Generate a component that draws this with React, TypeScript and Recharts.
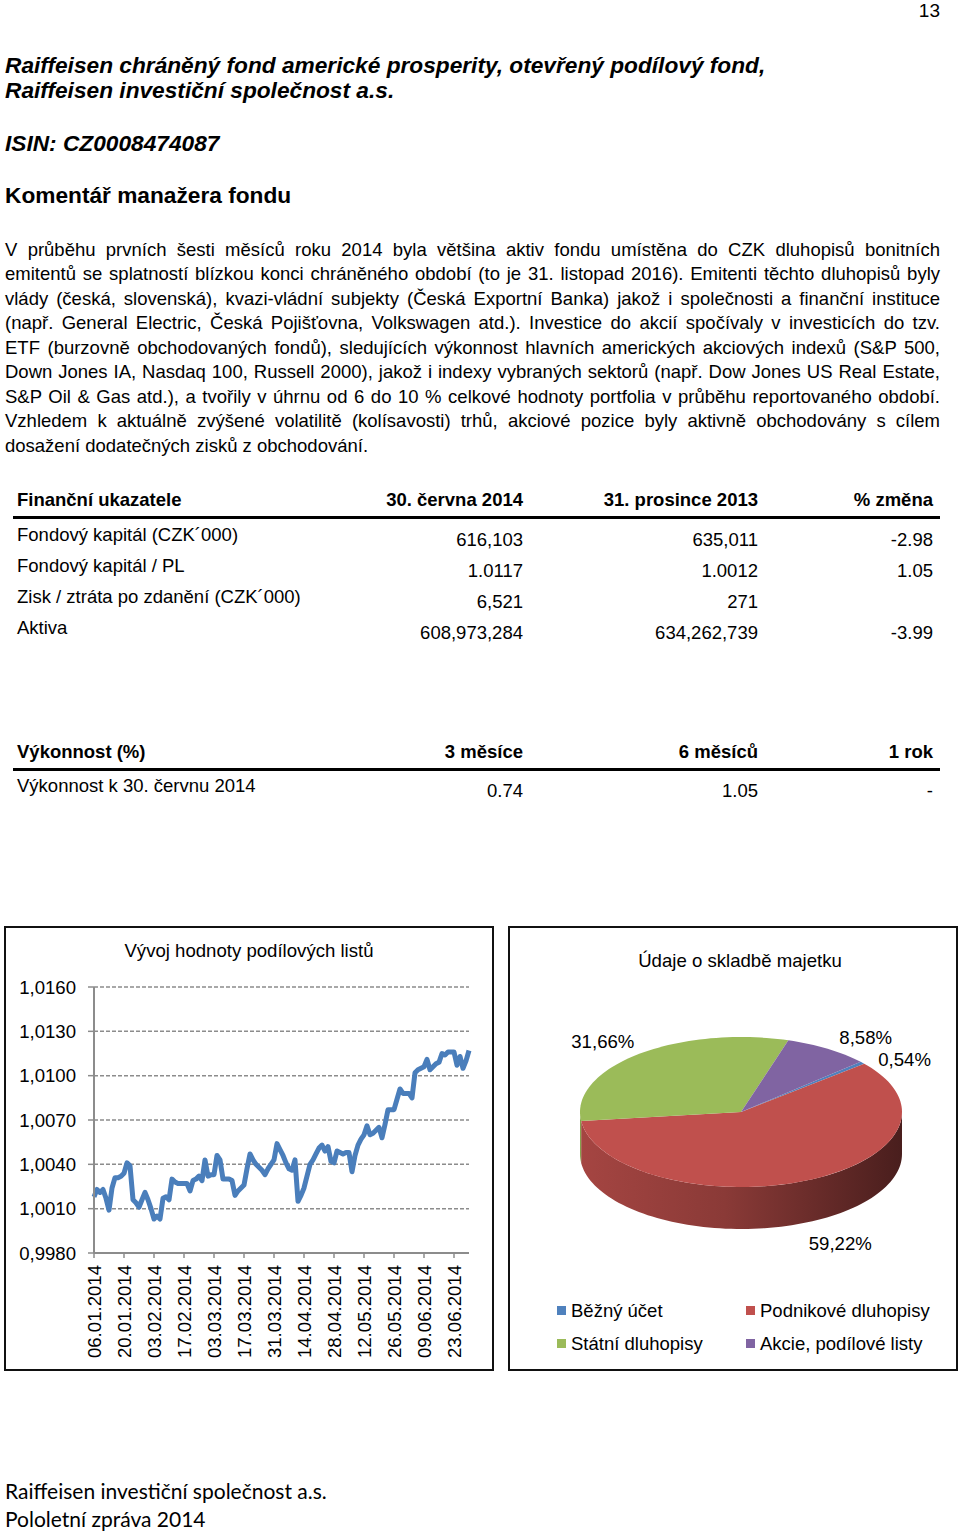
import React from "react";
import { LineChart, Line, XAxis, YAxis, CartesianGrid, PieChart, Pie, Legend } from "recharts";

// NAV per unit, trading days 06.01.2014 - 30.06.2014
const navValues = [
  1.0018, 1.0023, 1.0021, 1.0023, 1.0017, 1.0009, 1.0024, 1.0031, 1.0031, 1.0032,
  1.0034, 1.0041, 1.0039, 1.0016, 1.0014, 1.0011, 1.0016, 1.0021, 1.0016, 1.0010,
  1.0003, 1.0005, 1.0003, 1.0017, 1.0018, 1.0016, 1.0030, 1.0028, 1.0027, 1.0027,
  1.0027, 1.0027, 1.0022, 1.0029, 1.0030, 1.0032, 1.0029, 1.0043, 1.0032, 1.0033,
  1.0033, 1.0046, 1.0043, 1.0030, 1.0030, 1.0030, 1.0029, 1.0019, 1.0022, 1.0024,
  1.0026, 1.0037, 1.0047, 1.0043, 1.0040, 1.0038, 1.0036, 1.0033, 1.0037, 1.0040,
  1.0043, 1.0054, 1.0050, 1.0046, 1.0041, 1.0037, 1.0036, 1.0043, 1.0015, 1.0019,
  1.0024, 1.0032, 1.0040, 1.0043, 1.0047, 1.0051, 1.0053, 1.0049, 1.0052, 1.0042,
  1.0041, 1.0049, 1.0048, 1.0047, 1.0048, 1.0048, 1.0035, 1.0046, 1.0053, 1.0057,
  1.0060, 1.0066, 1.0060, 1.0061, 1.0063, 1.0065, 1.0058, 1.0067, 1.0077, 1.0077,
  1.0077, 1.0084, 1.0091, 1.0088, 1.0088, 1.0088, 1.0085, 1.0102, 1.0104, 1.0105,
  1.0106, 1.0111, 1.0104, 1.0106, 1.0108, 1.0109, 1.0115, 1.0114, 1.0116, 1.0116,
  1.0116, 1.0107, 1.0113, 1.0105, 1.0110, 1.0117,
];
const dateTicks = [
  "06.01.2014", "20.01.2014", "03.02.2014", "17.02.2014", "03.03.2014", "17.03.2014", "31.03.2014",
  "14.04.2014", "28.04.2014", "12.05.2014", "26.05.2014", "09.06.2014", "23.06.2014",
];
const yTicks = [0.998, 1.001, 1.004, 1.007, 1.01, 1.013, 1.016];

const assetNames = ["Běžný účet", "Podnikové dluhopisy", "Státní dluhopisy", "Akcie, podílové listy"];
const assetShares = [0.54, 59.22, 31.66, 8.58];
const assetColors = ["#4f81bd", "#c0504d", "#9bbb59", "#8064a2"];

const finHeader = ["Finanční ukazatele", "30. června 2014", "31. prosince 2013", "% změna"];
const finLabels = ["Fondový kapitál (CZK´000)", "Fondový kapitál / PL", "Zisk / ztráta po zdanění (CZK´000)", "Aktiva"];
const finJun = ["616,103", "1.0117", "6,521", "608,973,284"];
const finDec = ["635,011", "1.0012", "271", "634,262,739"];
const finChange = ["-2.98", "1.05", "", "-3.99"];

const perfHeader = ["Výkonnost (%)", "3 měsíce", "6 měsíců", "1 rok"];
const perfLabel = "Výkonnost k 30. červnu 2014";
const perfValues = ["0.74", "1.05", "-"];

const paragraph = [
  "V průběhu prvních šesti měsíců roku 2014 byla většina aktiv fondu umístěna do CZK dluhopisů bonitních",
  "emitentů se splatností blízkou konci chráněného období (to je 31. listopad 2016). Emitenti těchto dluhopisů byly",
  "vlády (česká, slovenská), kvazi-vládní subjekty (Česká Exportní Banka) jakož i společnosti a finanční instituce",
  "(např. General Electric, Česká Pojišťovna, Volkswagen atd.). Investice do akcií spočívaly v investicích do tzv.",
  "ETF (burzovně obchodovaných fondů), sledujících výkonnost hlavních amerických akciových indexů (S&P 500,",
  "Down Jones IA, Nasdaq 100, Russell 2000), jakož i indexy vybraných sektorů (např. Dow Jones US Real Estate,",
  "S&P Oil & Gas atd.), a tvořily v úhrnu od 6 do 10 % celkové hodnoty portfolia v průběhu reportovaného období.",
  "Vzhledem k aktuálně zvýšené volatilitě (kolísavosti) trhů, akciové pozice byly aktivně obchodovány s cílem",
  "dosažení dodatečných zisků z obchodování.",
];

const SANS = "Liberation Sans, Arimo, Arial, sans-serif";
const FS = 18.6; // chart text size
const TS = 18.5; // table text size
const HS = 22.7; // heading size

const lineData = navValues.map((v, i) => ({ i, v }));
const pieData = assetNames.map((name, k) => ({ name, value: assetShares[k], fill: assetColors[k] }));

const RY_RATIO = 75 / 161;
const DEPTH = 42;
const LABEL_NUDGE = [[21, 15], [24, -5], [-17, 9], [23, 12]];

function shade(hex: string, f: number) {
  const n = parseInt(hex.slice(1), 16);
  const r = Math.round(((n >> 16) & 255) * f);
  const g = Math.round(((n >> 8) & 255) * f);
  const b = Math.round((n & 255) * f);
  return `rgb(${r},${g},${b})`;
}

function arc(cx: number, cy: number, rx: number, ry: number, a0: number, a1: number) {
  const n = Math.max(2, Math.ceil(Math.abs(a1 - a0) / 2));
  const pts: string[] = [];
  for (let s = 0; s <= n; s++) {
    const a = ((a0 + ((a1 - a0) * s) / n) * Math.PI) / 180;
    pts.push(`${(cx + rx * Math.cos(a)).toFixed(2)},${(cy - ry * Math.sin(a)).toFixed(2)}`);
  }
  return pts;
}

// elliptical slice with a shaded front wall, drawn from the sector angles Recharts computes
const Slice3D = (props: any) => {
  const { cx, cy, outerRadius, startAngle, endAngle, fill } = props;
  const rx = outerRadius;
  const ry = outerRadius * RY_RATIO;
  const lo = Math.min(startAngle, endAngle);
  const hi = Math.max(startAngle, endAngle);
  const gid = `side-${String(fill).replace("#", "")}`;
  const sides: string[] = [];
  for (let k = -2; k <= 2; k++) {
    const a = Math.max(lo, -180 + 360 * k);
    const b = Math.min(hi, 360 * k);
    if (b > a) {
      const upper = arc(cx, cy, rx, ry, a, b);
      const lower = arc(cx, cy + DEPTH, rx, ry, b, a);
      sides.push(`M${upper.join(" L")} L${lower.join(" L")} Z`);
    }
  }
  const top = `M${cx},${cy} L${arc(cx, cy, rx, ry, lo, hi).join(" L")} Z`;
  return (
    <g>
      <defs>
        <linearGradient id={gid} gradientUnits="userSpaceOnUse" x1={cx - rx} y1={0} x2={cx + rx} y2={0}>
          <stop offset="0%" stopColor={shade(fill, 0.86)} />
          <stop offset="45%" stopColor={shade(fill, 0.72)} />
          <stop offset="100%" stopColor={shade(fill, 0.38)} />
        </linearGradient>
      </defs>
      {sides.map((d, k) => (
        <path key={k} d={d} fill={`url(#${gid})`} stroke="none" />
      ))}
      <path d={top} fill={fill} stroke="none" />
    </g>
  );
};

const renderPieLabel = (props: any) => {
  const { cx, cy, midAngle, outerRadius, index, value } = props;
  const a = (midAngle * Math.PI) / 180;
  const rx = outerRadius + 28;
  const ry = outerRadius * RY_RATIO + 28;
  const nudge = LABEL_NUDGE[index] || [0, 0];
  const x = cx + rx * Math.cos(a) + nudge[0];
  const y = cy - ry * Math.sin(a) + (Math.sin(a) < 0 ? DEPTH : 0) + nudge[1];
  return (
    <text x={x} y={y} textAnchor="middle" dominantBaseline="central" fontSize={FS} fontFamily={SANS} fill="#000">
      {`${Number(value).toFixed(2).replace(".", ",")}%`}
    </text>
  );
};

const renderLegend = (props: any) => {
  const items = assetNames.map((name, k) => {
    const p = (props.payload || []).find((q: any) => q.value === name);
    return { name, color: p ? p.color : assetColors[k] };
  });
  return (
    <div style={{ display: "grid", gridTemplateColumns: "189px 189px", fontFamily: SANS, fontSize: 18.5 }}>
      {items.map((it) => (
        <div key={it.name} style={{ display: "flex", alignItems: "center", height: 33, color: "#000", whiteSpace: "nowrap" }}>
          <span style={{ width: 9, height: 9, background: it.color, marginRight: 5, display: "inline-block", flex: "none" }} />
          {it.name}
        </div>
      ))}
    </div>
  );
};

const DateTick = (props: any) => {
  const { x, y, payload } = props;
  return (
    <g transform={`translate(${x},${y + 5}) rotate(-90)`}>
      <text x={0} y={0} dy="0.36em" textAnchor="end" fontSize={FS} fontFamily={SANS} fill="#000">
        {dateTicks[Math.round(payload.value / 10)]}
      </text>
    </g>
  );
};

const T = (p: { x: number; y: number; w?: number; align?: "left" | "right" | "center"; size: number; font?: string; bold?: boolean; italic?: boolean; children: React.ReactNode }) => {
  const lh = p.size * 1.3;
  const w = p.w ?? 900;
  const left = p.align === "right" ? p.x - w : p.align === "center" ? p.x - w / 2 : p.x;
  return (
    <div
      style={{
        position: "absolute", left, top: p.y - lh / 2, width: w, lineHeight: `${lh}px`, fontSize: p.size,
        fontFamily: p.font ?? SANS, fontWeight: p.bold ? 700 : 400, fontStyle: p.italic ? "italic" : "normal",
        textAlign: p.align ?? "left", whiteSpace: "nowrap", color: "#000",
      }}
    >
      {p.children}
    </div>
  );
};

const COLS = [523, 758, 933];

export default function App() {
  return (
    <div style={{ position: "absolute", left: 0, top: 0, width: 960, height: 1531, background: "#fff", overflow: "hidden" }}>
      <T x={940} y={11} align="right" w={60} size={19}>13</T>

      <T x={5} y={66} size={HS} bold italic>Raiffeisen chráněný fond americké prosperity, otevřený podílový fond,</T>
      <T x={5} y={91} size={HS} bold italic>Raiffeisen investiční společnost a.s.</T>
      <T x={5} y={144} size={HS} bold italic>ISIN: CZ0008474087</T>
      <T x={5} y={196} size={HS} bold>Komentář manažera fondu</T>

      <div style={{ position: "absolute", left: 5, top: 250 - 12.25, width: 935, fontFamily: SANS, fontSize: 18.5, lineHeight: "24.5px", color: "#000" }}>
        {paragraph.map((line, k) => (
          <div
            key={k}
            style={{
              textAlign: "justify",
              textAlignLast: k === paragraph.length - 1 ? "left" : "justify",
              whiteSpace: "nowrap",
            } as React.CSSProperties}
          >
            {line}
          </div>
        ))}
      </div>

      {/* financial table */}
      <T x={17} y={500} size={TS} bold>{finHeader[0]}</T>
      {finHeader.slice(1).map((h, k) => (
        <T key={h} x={COLS[k]} y={500} align="right" w={300} size={TS} bold>{h}</T>
      ))}
      <div style={{ position: "absolute", left: 13, top: 516, width: 927, height: 2.5, background: "#000" }} />
      {finLabels.map((l, r) => (
        <React.Fragment key={l}>
          <T x={17} y={535 + r * 31} size={TS}>{l}</T>
          <T x={COLS[0]} y={540 + r * 31} align="right" w={300} size={TS}>{finJun[r]}</T>
          <T x={COLS[1]} y={540 + r * 31} align="right" w={300} size={TS}>{finDec[r]}</T>
          <T x={COLS[2]} y={540 + r * 31} align="right" w={300} size={TS}>{finChange[r]}</T>
        </React.Fragment>
      ))}

      {/* performance table */}
      <T x={17} y={752} size={TS} bold>{perfHeader[0]}</T>
      {perfHeader.slice(1).map((h, k) => (
        <T key={h} x={COLS[k]} y={752} align="right" w={300} size={TS} bold>{h}</T>
      ))}
      <div style={{ position: "absolute", left: 13, top: 768, width: 927, height: 2.5, background: "#000" }} />
      <T x={17} y={786} size={TS}>{perfLabel}</T>
      {perfValues.map((v, k) => (
        <T key={k} x={COLS[k]} y={791} align="right" w={300} size={TS}>{v}</T>
      ))}

      {/* line chart */}
      <div style={{ position: "absolute", left: 5, top: 927, width: 488, height: 443 }}>
        <LineChart width={488} height={443} data={lineData} margin={{ top: 60, right: 24, left: 0, bottom: 0 }}>
          <CartesianGrid vertical={false} stroke="#8c8c8c" strokeWidth={1.5} strokeDasharray="4 2" />
          <XAxis
            dataKey="i"
            type="number"
            domain={[0, 125]}
            ticks={[0, 10, 20, 30, 40, 50, 60, 70, 80, 90, 100, 110, 120]}
            interval={0}
            height={117}
            tick={<DateTick />}
            tickSize={5}
            tickLine={{ stroke: "#8c8c8c", strokeWidth: 1.5 }}
            axisLine={{ stroke: "#8c8c8c", strokeWidth: 2 }}
          />
          <YAxis
            domain={[0.998, 1.016]}
            ticks={yTicks}
            interval={0}
            width={89}
            tickSize={6}
            tickMargin={12}
            tickFormatter={(v: number) => v.toFixed(4).replace(".", ",")}
            tick={{ fontSize: FS, fill: "#000", fontFamily: SANS }}
            tickLine={{ stroke: "#8c8c8c", strokeWidth: 1.5 }}
            axisLine={{ stroke: "#8c8c8c", strokeWidth: 2 }}
          />
          <Line type="linear" dataKey="v" stroke="#4a7ebb" strokeWidth={5} dot={false} strokeLinejoin="round" isAnimationActive={false} />
        </LineChart>
        <div style={{ position: "absolute", left: 0, top: 13, width: 488, textAlign: "center", fontFamily: SANS, fontSize: FS, color: "#000" }}>
          Vývoj hodnoty podílových listů
        </div>
      </div>
      <div style={{ position: "absolute", left: 4, top: 926, width: 486, height: 441, border: "2px solid #111" }} />

      {/* pie chart */}
      <div style={{ position: "absolute", left: 509, top: 927, width: 448, height: 443 }}>
        <PieChart width={448} height={443} margin={{ top: 0, right: 0, left: 0, bottom: 0 }}>
          <Pie
            data={pieData}
            dataKey="value"
            nameKey="name"
            cx={232}
            cy={185}
            outerRadius={161}
            startAngle={42}
            endAngle={-318}
            stroke="none"
            shape={Slice3D}
            label={renderPieLabel}
            labelLine={false}
            isAnimationActive={false}
          />
          <Legend content={renderLegend} wrapperStyle={{ position: "absolute", left: 48, top: 367, width: 400 }} />
        </PieChart>
        <div style={{ position: "absolute", left: 0, top: 23, width: 462, textAlign: "center", fontFamily: SANS, fontSize: FS, color: "#000" }}>
          Údaje o skladbě majetku
        </div>
      </div>
      <div style={{ position: "absolute", left: 508, top: 926, width: 446, height: 441, border: "2px solid #111" }} />

      <T x={5} y={1491} size={21} font="Lato, sans-serif">Raiffeisen investiční společnost a.s.</T>
      <T x={5} y={1519} size={21} font="Lato, sans-serif">Pololetní zpráva 2014</T>
    </div>
  );
}
